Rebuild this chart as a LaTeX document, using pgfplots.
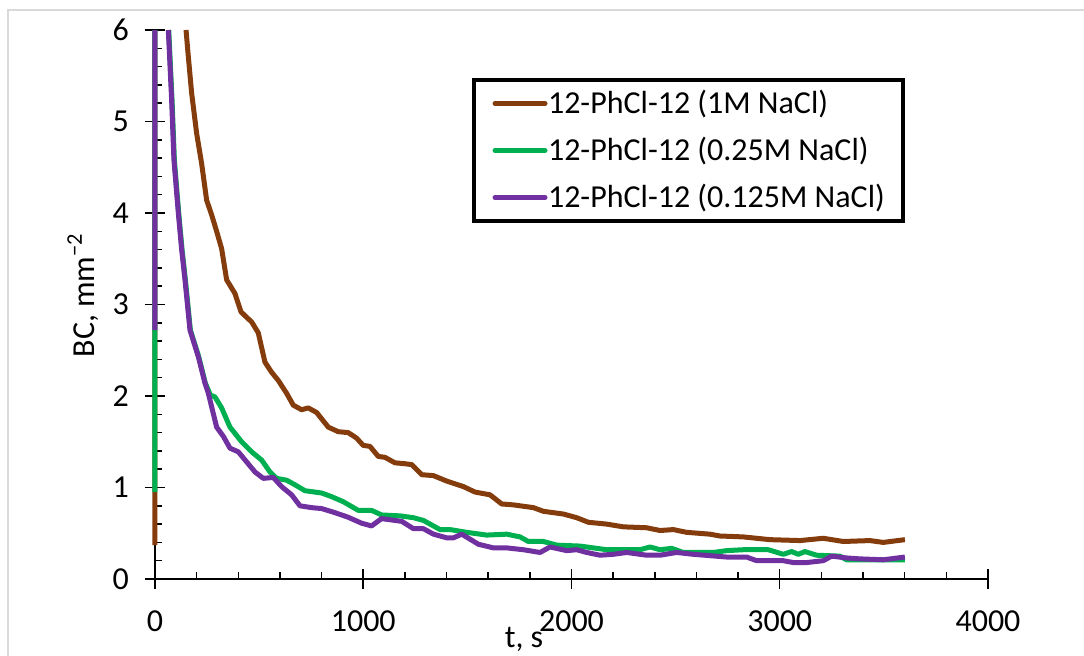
\documentclass[border=0pt]{standalone}
\usepackage{pgfplots}
\pgfplotsset{compat=1.18}
\usepackage{fontspec}
\setmainfont{Carlito}
\definecolor{cbrown}{HTML}{843C0C}
\definecolor{cgreen}{HTML}{00B050}
\definecolor{cpurple}{HTML}{7030A0}
\definecolor{cframe}{HTML}{D9D9D9}
\begin{document}
\begin{tikzpicture}
\useasboundingbox (-77.5pt,-38pt) rectangle (464.5pt,289.5pt);
\fill[white] (-77.5pt,-38pt) rectangle (464.5pt,289.5pt);
\draw[cframe, line width=1pt] (-73.25pt,-45pt) -- (-73.25pt,284.25pt) -- (470pt,284.25pt);
\begin{axis}[
  at={(0pt,0pt)}, anchor=south west,
  scale only axis, width=416.5pt, height=274.5pt,
  xmin=0, xmax=4000, ymin=0, ymax=6,
  axis x line*=bottom, axis y line*=left,
  axis line style={line width=0.75pt, black},
  xtick={0,1000,2000,3000,4000}, ytick={0,1,2,3,4,5,6},
  minor x tick num=4, minor y tick num=4,
  tick align=center,
  major tick length=10pt, minor tick length=3.5pt,
  every tick/.style={black, line width=0.75pt},
  minor x tick style={yshift=1.75pt},
  minor y tick style={xshift=1.75pt},
  /pgf/number format/assume math mode=true,
  /pgf/number format/1000 sep={},
  ticklabel style={font=\fontsize{16}{19}\selectfont},
  xticklabel style={yshift=-7.5pt},
  yticklabel style={xshift=-4.5pt},
  clip=false,
  unbounded coords=jump,
  xlabel={t, s},
  xlabel style={at={(axis description cs:0.443,0)}, anchor=base, inner sep=0pt, yshift=-34pt, font=\fontsize{16}{19}\selectfont},
  ylabel={BC, mm\textsuperscript{−2}},
  ylabel style={at={(axis description cs:-0.0864,0.517)}, anchor=center, font=\fontsize{16}{19}\selectfont},
  legend style={at={(0.3806,0.9126)}, anchor=north west, draw=black, line width=2pt,
    font=\fontsize{16}{19}\selectfont, inner xsep=9.25pt, inner ysep=0pt, row sep=0pt,
    column sep=0.25pt,
    nodes={inner xsep=0pt, inner ysep=0pt, text height=16.75pt, text depth=6.75pt}},
  legend cell align=left,
  legend image code/.code={\draw[#1, line cap=round] (0pt,0pt) -- (25pt,0pt);},
  every axis plot/.append style={line width=2.5pt, line join=round},
]
\addplot[cbrown] coordinates {
(0,0.37) (0,6) (0,nan)
(149,6.0) (160,5.71) (176,5.31) (200,4.87) (224,4.54) (248,4.14) (272,3.98) (296,3.80) (320,3.61) (344,3.27) (384,3.12) (413,2.92) (440,2.86) (464,2.81) (496,2.69) (528,2.37) (560,2.26) (592,2.17) (632,2.03) (664,1.90) (704,1.85) (736,1.87) (776,1.82) (832,1.66) (880,1.61) (928,1.60) (968,1.54) (1000,1.46) (1032,1.45) (1072,1.34) (1104,1.33) (1152,1.27) (1200,1.26) (1233,1.25) (1281,1.14) (1337,1.13) (1401,1.07) (1481,1.01) (1537,0.95) (1609,0.92) (1665,0.82) (1721,0.81) (1817,0.78) (1865,0.74) (1961,0.71) (2025,0.67) (2081,0.62) (2169,0.60) (2249,0.57) (2361,0.56) (2425,0.53) (2489,0.54) (2553,0.51) (2665,0.49) (2713,0.47) (2825,0.46) (2953,0.43) (3097,0.42) (3209,0.445) (3305,0.41) (3433,0.42) (3497,0.40) (3601,0.43)
};
\addlegendentry{12-PhCl-12 (1M NaCl)}
\addplot[cgreen] coordinates {
(0,0.95) (0,6) (0,nan)
(66,6.0) (82,5.23) (93,4.58) (114,4.0) (130,3.6) (146,3.27) (170,2.72) (210,2.43) (242,2.14) (266,2.01) (288,1.99) (320,1.87) (360,1.66) (416,1.50) (464,1.39) (512,1.30) (552,1.17) (584,1.10) (632,1.08) (672,1.03) (720,0.965) (800,0.94) (848,0.90) (904,0.845) (976,0.75) (1040,0.75) (1088,0.70) (1177,0.69) (1241,0.67) (1289,0.64) (1369,0.54) (1417,0.54) (1497,0.51) (1593,0.48) (1689,0.49) (1753,0.46) (1793,0.41) (1865,0.41) (1929,0.37) (2041,0.36) (2169,0.32) (2329,0.32) (2377,0.35) (2425,0.32) (2481,0.335) (2537,0.29) (2681,0.29) (2745,0.31) (2825,0.32) (2945,0.32) (3017,0.27) (3057,0.30) (3089,0.27) (3121,0.30) (3177,0.26) (3289,0.25) (3321,0.21) (3385,0.21) (3601,0.21)
};
\addlegendentry{12-PhCl-12 (0.25M NaCl)}
\addplot[cpurple] coordinates {
(0,2.72) (0,6) (0,nan)
(64,6.0) (80,5.23) (91,4.58) (112,4.0) (128,3.6) (144,3.27) (168,2.72) (208,2.43) (240,2.14) (256,2.03) (296,1.66) (328,1.56) (360,1.43) (400,1.39) (440,1.28) (480,1.17) (520,1.10) (568,1.11) (608,1.01) (656,0.92) (696,0.80) (752,0.78) (800,0.77) (864,0.725) (928,0.675) (992,0.61) (1040,0.58) (1088,0.66) (1185,0.63) (1241,0.55) (1289,0.55) (1337,0.49) (1401,0.45) (1433,0.45) (1473,0.49) (1553,0.38) (1625,0.34) (1689,0.34) (1769,0.32) (1849,0.29) (1897,0.35) (1977,0.31) (2025,0.32) (2073,0.29) (2137,0.26) (2201,0.27) (2265,0.29) (2361,0.26) (2425,0.26) (2505,0.29) (2585,0.27) (2745,0.24) (2841,0.24) (2889,0.20) (3017,0.20) (3065,0.18) (3129,0.18) (3209,0.20) (3249,0.25) (3321,0.23) (3385,0.22) (3497,0.21) (3601,0.24)
};
\addlegendentry{12-PhCl-12 (0.125M NaCl)}
\end{axis}
\end{tikzpicture}
\end{document}
